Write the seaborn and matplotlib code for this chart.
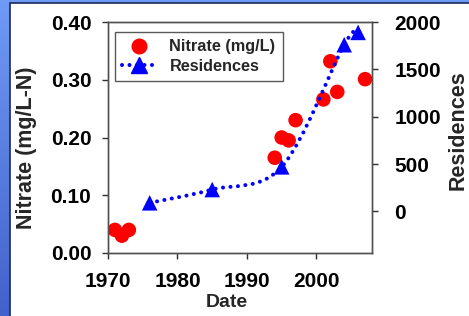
import numpy as np
import matplotlib
matplotlib.use("Agg")
import matplotlib.pyplot as plt
import seaborn as sns
from matplotlib.path import Path
from matplotlib.patches import PathPatch, Rectangle
from matplotlib.lines import Line2D
from matplotlib.colors import LinearSegmentedColormap

# nitrate samples (left axis)
nitrate_year = [1971, 1972, 1973, 1994, 1995, 1996, 1997, 2001, 2002, 2003, 2007]
nitrate_val = [0.04, 0.03, 0.04, 0.165, 0.20, 0.195, 0.23, 0.266, 0.332, 0.279, 0.301]

# residences (right axis)
res_year = [1976, 1985, 1995, 2004, 2006]
res_count = [90, 230, 470, 1760, 1890]

x_ticks = [1970, 1980, 1990, 2000]
left_ticks = [0.0, 0.1, 0.2, 0.3, 0.4]
right_ticks = [0, 500, 1000, 1500, 2000]

sns.set_style("ticks")
plt.rcParams['font.family'] = ['Liberation Sans', 'DejaVu Sans']
plt.rcParams['font.weight'] = 'bold'

fig = plt.figure(figsize=(4.69, 3.16), dpi=100)

# slide background: blue gradient with white chart area
bg = fig.add_axes([0, 0, 1, 1], zorder=-10)
grad = LinearSegmentedColormap.from_list('slide', ['#4262cc', '#6f9af5'])
bg.imshow(np.linspace(0, 1, 200).reshape(-1, 1), cmap=grad, aspect='auto',
          extent=[0, 1, 0, 1], origin='lower')
bg.add_patch(Rectangle((10 / 469, -0.01), 1, 1 - 3 / 316 + 0.01, facecolor='white',
                       edgecolor='#1a2a55', lw=1.2))
bg.set_xlim(0, 1)
bg.set_ylim(0, 1)
bg.axis('off')

ax = fig.add_axes([108 / 469, 63 / 316, 264 / 469, 231 / 316])
ax2 = ax.twinx()

sns.scatterplot(x=nitrate_year, y=nitrate_val, ax=ax, color='#ff0000', s=110,
                edgecolor='none', marker='o', zorder=3)

# smoothed dotted line through residences (Bezier, like a spreadsheet smoothed line)
n = len(res_year)
verts = [(res_year[0], res_count[0])]
codes = [Path.MOVETO]
for i in range(n - 1):
    a = max(i - 1, 0)
    b = min(i + 2, n - 1)
    c1 = (res_year[i] + (res_year[i + 1] - res_year[a]) / 6,
          res_count[i] + (res_count[i + 1] - res_count[a]) / 6)
    c2 = (res_year[i + 1] - (res_year[b] - res_year[i]) / 6,
          res_count[i + 1] - (res_count[b] - res_count[i]) / 6)
    verts += [c1, c2, (res_year[i + 1], res_count[i + 1])]
    codes += [Path.CURVE4] * 3
ax2.add_patch(PathPatch(Path(verts, codes), fill=False, edgecolor='#0000ff', lw=2.9,
                        linestyle=(0, (0.01, 1.85)), capstyle='round', zorder=2))
sns.scatterplot(x=res_year, y=res_count, ax=ax2, color='#0000ff', s=125,
                edgecolor='none', marker='^', zorder=3)

ax.set_xlim(1970, 2008)
ax.set_ylim(0, 0.40)
ax2.set_ylim(-440, 2000)
ax.set_xticks(x_ticks)
ax.set_yticks(left_ticks)
ax.set_yticklabels([f"{v:.2f}" for v in left_ticks])
ax2.set_yticks(right_ticks)

for a in (ax, ax2):
    for s in a.spines.values():
        s.set_color('#505050')
        s.set_linewidth(1.0)
    a.tick_params(colors='#303030', labelcolor='black', length=4, width=1,
                  direction='out', labelsize=15)
ax.tick_params(axis='y', pad=8)
ax.tick_params(axis='x', pad=10)
ax2.tick_params(axis='y', pad=12)

ax.set_xlabel('Date', fontsize=14, fontweight='bold', va='center')
ax.xaxis.set_label_coords(0.45, -0.216)
ax.set_ylabel('Nitrate (mg/L-N)', fontsize=15.5, fontweight='bold', va='center')
ax.yaxis.set_label_coords(-0.308, 0.455)
ax2.set_ylabel('Residences', fontsize=15.5, fontweight='bold', va='center')
ax2.yaxis.set_label_coords(1.325, 0.532)

handles = [
    Line2D([], [], color='#ff0000', marker='o', markersize=10.5, linestyle='none'),
    Line2D([], [], color='#0000ff', marker='^', markersize=11, lw=2.9,
           linestyle=(0, (0.01, 1.85)), dash_capstyle='round'),
]
leg = ax2.legend(handles, ['Nitrate (mg/L)', 'Residences'], loc='upper left',
                 bbox_to_anchor=(0.0265, 0.957), borderaxespad=0, frameon=True,
                 fancybox=False, edgecolor='#303030', fontsize=11.7,
                 handlelength=2.1, handletextpad=0.8, labelspacing=0.3,
                 borderpad=0.45)
leg.get_frame().set_linewidth(1.0)
for t in leg.get_texts():
    t.set_fontweight('bold')

fig.savefig('out.png', dpi=100)
